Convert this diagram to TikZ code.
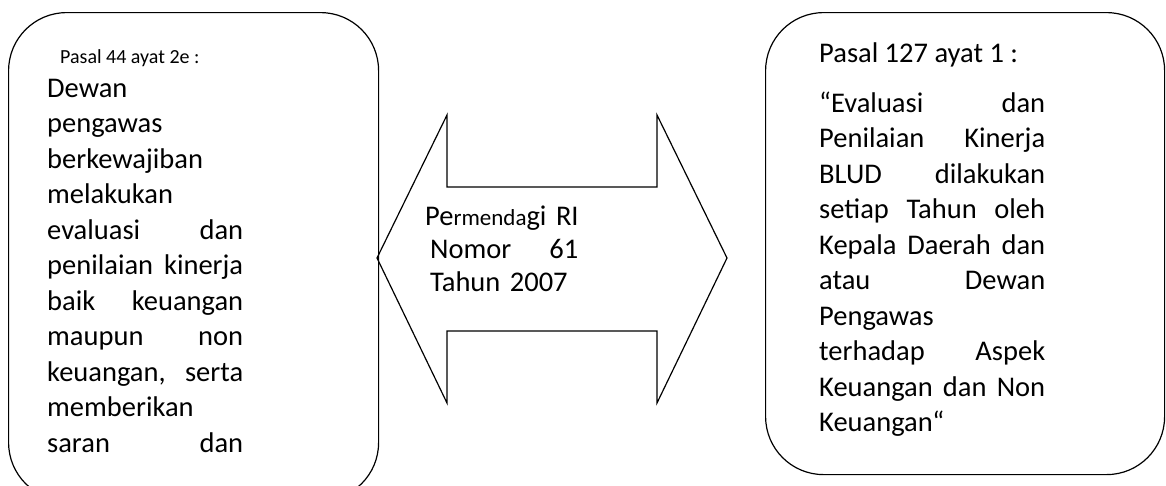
\documentclass[tikz,border=0pt]{standalone}
\usepackage{fontspec}
\setmainfont{Carlito}
\begin{document}
\begin{tikzpicture}[x=1pt,y=-1pt,
  box/.style={draw,line width=1.2pt,rounded corners=58pt,anchor=north west,inner sep=0pt},
  body/.style={anchor=north west,inner sep=0pt,align=left,font=\fontsize{28.5}{35.5}\selectfont},
  head/.style={anchor=base west,inner sep=0pt},
  arrowshape/.style={draw,line width=1.2pt,line join=miter}
  ]
\useasboundingbox (0,0) rectangle (1166,485);
% boxes
\node[box,minimum width=370pt,minimum height=488pt] (lbox) at (8,12) {};
\node[box,minimum width=399pt,minimum height=462pt] (rbox) at (765,12) {};
% double arrow
\draw[arrowshape] (377,258) -- (447,115) -- (447,187) -- (657,187) -- (657,115)
  -- (727,258) -- (657,403) -- (657,331) -- (447,331) -- (447,403) -- cycle;
% left texts
\node[head,font=\fontsize{20}{24}\selectfont] (lhead) at (60,63) {Pasal 44 ayat 2e :};
\node[body,text width=196pt] (ltext) at (47,72.15) {\strut Dewan\\
pengawas\\
berkewajiban\\
melakukan\\
evaluasi\hfill dan\\
penilaian\hfill kinerja\\
baik\hfill keuangan\\
maupun\hfill non\\
keuangan,\hfill serta\\
memberikan\\
saran\hfill dan};
% middle text
\node[body,text width=153pt,font=\fontsize{28.5}{33}\selectfont] (mtext) at (425,201.9) {\strut\mbox{P{e}{\fontsize{23}{33}\selectfont rmenda}gi~RI}\\
\hspace*{5pt}Nomor\hfill 61\\
\hspace*{5pt}Tahun 2007};
% right texts
\node[head,font=\fontsize{28.5}{35.5}\selectfont] (rhead) at (819,62) {Pasal 127 ayat 1 :};
\node[body,text width=226pt] (rtext) at (819,87.15) {\strut “Evaluasi\hfill dan\\
Penilaian\hfill Kinerja\\
BLUD\hfill dilakukan\\
setiap\hfill Tahun\hfill oleh\\
Kepala\hfill Daerah\hfill dan\\
atau\hfill Dewan\\
Pengawas\\
terhadap\hfill Aspek\\
Keuangan\hfill dan\hfill Non\\
Keuangan“};
\end{tikzpicture}
\end{document}
